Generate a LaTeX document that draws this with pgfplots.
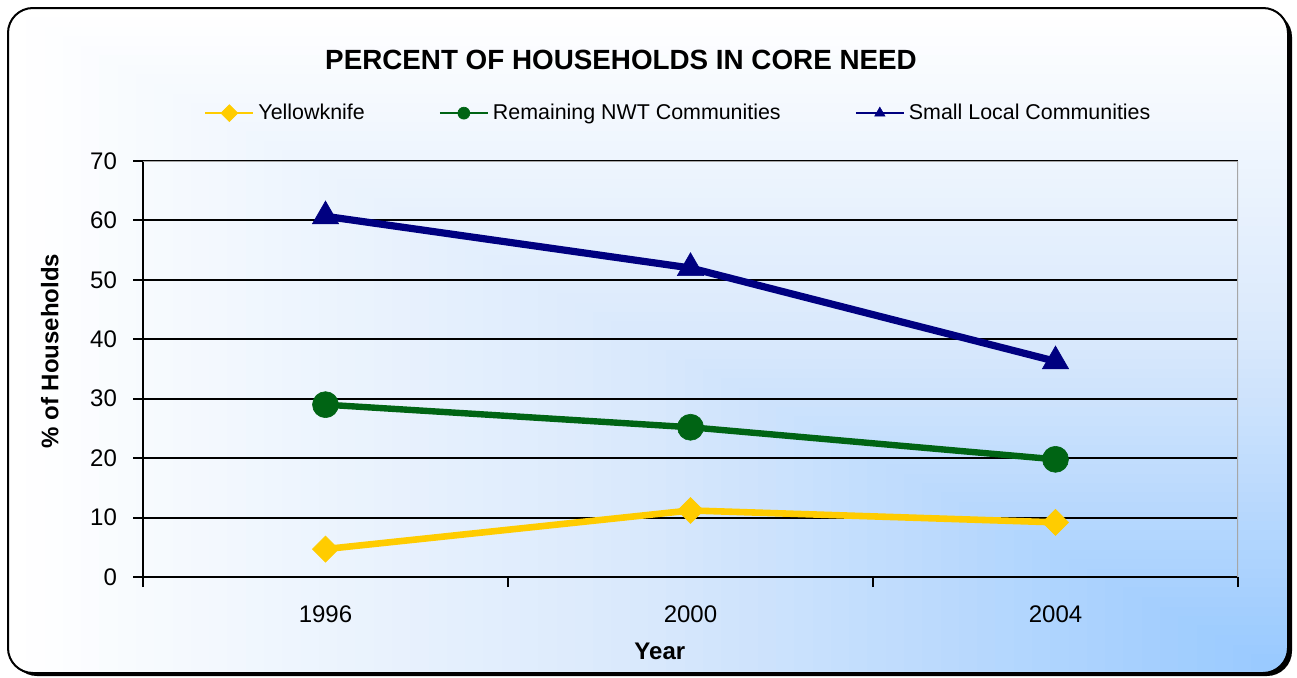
\documentclass[border=0pt]{standalone}
\usepackage{fontspec}
\setmainfont{Liberation Sans}
\usepackage{pgfplots}
\pgfplotsset{compat=1.18}
\definecolor{navy}{RGB}{0,0,128}
\definecolor{dgreen}{RGB}{0,100,20}
\definecolor{gold}{RGB}{255,204,0}
\definecolor{bgblue}{RGB}{150,200,255}
\definecolor{bgmid}{RGB}{216,232,252}
\begin{document}
\begin{tikzpicture}[x=0.5pt,y=0.5pt]
\fill[black, rounded corners=12.5pt] (12,1) rectangle (1292,665);
\begin{scope}
\clip[rounded corners=12.5pt] (8,4) rectangle (1288,669);
\fill[white] (8,4) rectangle (1288,669);
\foreach \k in {0,...,69}{
  \pgfmathsetmacro{\t}{1-\k/70}
  \pgfmathsetmacro{\p}{\t>=0.5 ? 100*(\t-0.5)/0.5 : 100*\t/0.5}
  \ifdim\t pt<0.5pt
    \fill[bgmid!\p!bgblue] (1288-\t*1280,4) rectangle (1288,4+\t*665);
  \else
    \fill[white!\p!bgmid] (1288-\t*1280,4) rectangle (1288,4+\t*665);
  \fi
}
\end{scope}
\draw[black, line width=1pt, rounded corners=12.5pt] (8,4) rectangle (1288,669);
\node[font=\fontsize{13.9}{16}\selectfont\bfseries] at (621,617) {PERCENT OF HOUSEHOLDS IN CORE NEED};
\begin{axis}[
  at={(71.5pt,50pt)}, anchor=south west,
  scale only axis, width=547.5pt, height=208pt,
  xmin=0.5, xmax=3.5, ymin=0, ymax=70,
  axis x line*=bottom, axis y line*=left,
  axis line style={line width=1pt, -},
  xtick={1,2,3}, xticklabels={1996,2000,2004},
  minor xtick={0.5,1.5,2.5,3.5},
  ytick={0,10,...,70},
  tick align=outside,
  major tick length=5pt, minor tick length=5pt,
  major x tick style={draw=none},
  minor x tick style={black, line width=0.8pt},
  y tick style={black, line width=1pt},
  ymajorgrids=true,
  major y grid style={black, line width=1pt},
  /pgf/number format/assume math mode=true,
  ticklabel style={font=\fontsize{12}{14}\selectfont},
  xticklabel style={yshift=-6pt},
  yticklabel style={xshift=-4.5pt},
  xlabel={Year}, ylabel={\% of Households},
  every axis x label/.style={at={(rel axis cs:0.472,-0.178)}, anchor=center, font=\fontsize{12}{14}\selectfont\bfseries},
  every axis y label/.style={at={(rel axis cs:-0.085,0.543)}, rotate=90, anchor=center, font=\fontsize{12}{14}\selectfont\bfseries},
  legend columns=3,
  legend style={at={(0.0556,1.115)}, anchor=west, draw=none, fill=none, inner sep=0pt,
    font=\fontsize{10.7}{12}\selectfont,
    /tikz/every even column/.append style={column sep=35pt}},
  legend image code/.code={\draw[mark repeat=2,mark phase=2,#1,line width=1.2pt,mark size=3pt] plot coordinates {(0cm,0cm) (0.42cm,0cm) (0.84cm,0cm)};},
]
\draw[gray!70, line width=1pt] (rel axis cs:0,1) -- (rel axis cs:1,1) -- (rel axis cs:1,0);
\addplot[gold, line width=3.3pt, mark=square*, mark size=4.6pt, mark options={rotate=45, line width=0.3pt, fill=gold}] coordinates {(1,4.7) (2,11.2) (3,9.2)};
\addlegendentry{Yellowknife}
\addplot[dgreen, line width=3.2pt, mark=*, mark size=6.5pt, mark options={line width=0.3pt, fill=dgreen}] coordinates {(1,29.0) (2,25.2) (3,19.8)};
\addlegendentry{Remaining NWT Communities}
\addplot[navy, line width=3.6pt, mark=triangle*, mark size=7.6pt, mark options={line width=0.3pt, fill=navy}] coordinates {(1,60.7) (2,52.0) (3,36.3)};
\addlegendentry{Small Local Communities}
\end{axis}
\pgfresetboundingbox
\path (0,0) rectangle (1297,677);
\end{tikzpicture}
\end{document}
